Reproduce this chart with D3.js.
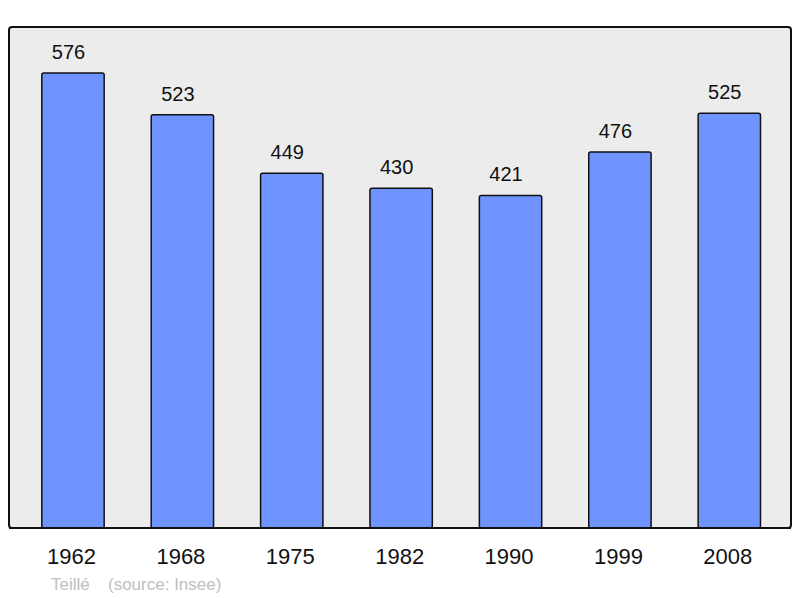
<!DOCTYPE html>
<html><head><meta charset="utf-8">
<script src="https://cdn.jsdelivr.net/npm/d3@7"></script>
<style>body{margin:0;background:#fff}svg{display:block}</style>
</head><body>
<script>
const years = ["1962","1968","1975","1982","1990","1999","2008"];
const population = [576,523,449,430,421,476,525];
const commune = "Teillé";
const source = "(source: Insee)";

const W = 800, H = 598;
const svg = d3.select("body").append("svg").attr("width", W).attr("height", H);
const frame = {x0: 9, y0: 27, x1: 791, y1: 528};
const font = "Liberation Sans, Arial, sans-serif";

svg.append("rect").attr("x", frame.x0).attr("y", frame.y0)
  .attr("width", frame.x1 - frame.x0).attr("height", frame.y1 - frame.y0)
  .attr("rx", 3).attr("fill", "#ececec").attr("stroke", "#111").attr("stroke-width", 2);

const x = d3.scaleBand().domain(years).range([18.3, 784]).paddingInner(0.43).paddingOuter(0.215);
const y = d3.scaleLinear().domain([0, 576]).range([frame.y1, 73]);

svg.selectAll("rect.bar").data(population).join("rect").attr("class","bar")
  .attr("x", (d,i) => x(years[i]))
  .attr("width", x.bandwidth())
  .attr("y", d => y(d))
  .attr("height", d => frame.y1 - y(d))
  .attr("rx", 2)
  .attr("fill", "#7094ff").attr("stroke", "#111").attr("stroke-width", 1.5);

svg.selectAll("text.val").data(population).join("text").attr("class","val")
  .attr("x", (d,i) => x(years[i]) + x.bandwidth()/2 - 4.5)
  .attr("y", d => y(d) - 14)
  .attr("text-anchor", "middle")
  .attr("font-family", font)
  .attr("font-size", 20).attr("fill", "#111").text(d => d);

svg.append("line").attr("x1", frame.x0).attr("x2", frame.x1).attr("y1", frame.y1).attr("y2", frame.y1)
  .attr("stroke", "#111").attr("stroke-width", 2);

const xAxis = svg.append("g").attr("transform", `translate(-1.5,${frame.y1})`)
  .call(d3.axisBottom(x).tickSize(0).tickPadding(20));
xAxis.select(".domain").remove();
xAxis.selectAll("text").attr("font-family", font)
  .attr("font-size", 22).attr("fill", "#111");

svg.append("text").attr("x", 51).attr("y", 590)
  .attr("font-family", font).attr("font-size", 17)
  .attr("fill", "#c0c0c0").text(commune);
svg.append("text").attr("x", 108).attr("y", 590)
  .attr("font-family", font).attr("font-size", 17)
  .attr("fill", "#c0c0c0").text(source);
</script>
</body></html>
